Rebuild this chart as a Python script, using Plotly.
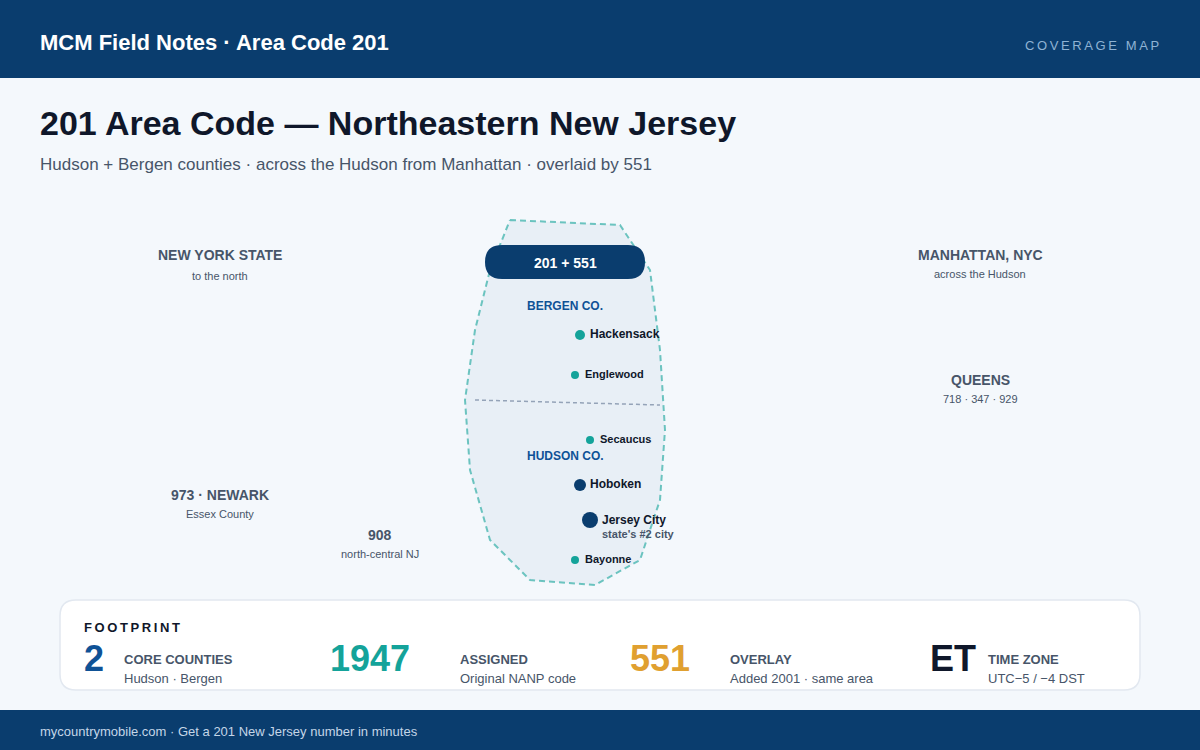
import plotly.graph_objects as go

# map outline and county divider
outline_x = [510, 620, 650, 660, 665, 660, 640, 595, 530, 490, 470, 465, 475, 490, 510]
outline_y = [220, 225, 270, 350, 430, 500, 560, 585, 580, 540, 470, 400, 330, 270, 220]
divider_x = [475, 660]
divider_y = [400, 405]

# cities
teal_names = ['Hackensack', 'Englewood', 'Secaucus', 'Bayonne']
teal_x = [580, 575, 590, 575]
teal_y = [335, 375, 440, 560]
teal_sizes = [10, 8, 8, 8]
navy_names = ['Hoboken', 'Jersey City']
navy_x = [580, 590]
navy_y = [485, 520]
navy_sizes = [12, 16]

NAVY = '#0a3d6e'
BLUE = '#0f5296'
TEAL = '#14a39a'
GOLD = '#e0a030'
INK = '#0f172a'
SLATE = '#475569'
SANS = 'Liberation Sans, Arial, sans-serif'

fig = go.Figure()

def addtext(x, y, text, size, color, anchor='left', bold=False):
    if bold:
        text = '<b>' + text + '</b>'
    fig.add_annotation(x=x, y=y, text=text, showarrow=False, xanchor=anchor, yanchor='middle',
                       borderpad=0, borderwidth=0,
                       font=dict(family=SANS, size=size, color=color))

def spaced(s):
    return '\u2009'.join(s)

# bands and cards
fig.add_shape(type='rect', x0=0, x1=1200, y0=0, y1=78, fillcolor=NAVY, line_width=0, layer='below')
fig.add_shape(type='rect', x0=0, x1=1200, y0=710, y1=750, fillcolor=NAVY, line_width=0, layer='below')
fig.add_shape(type='path', layer='below', fillcolor='#ffffff', line=dict(color='#e2e8f0', width=1.5),
              path='M 76 600 L 1124 600 Q 1140 600 1140 616 L 1140 674 Q 1140 690 1124 690 '
                   'L 76 690 Q 60 690 60 674 L 60 616 Q 60 600 76 600 Z')

fig.add_trace(go.Scatter(x=outline_x, y=outline_y, mode='lines', fill='toself', fillcolor='rgba(15,76,138,0.05)',
                         line=dict(color='rgba(20,163,154,0.6)', width=2, dash='6px,4px'), hoverinfo='skip'))
fig.add_trace(go.Scatter(x=divider_x, y=divider_y, mode='lines',
                         line=dict(color='#94a3b8', width=1.5, dash='4px,3px'), hoverinfo='skip'))
fig.add_trace(go.Scatter(x=teal_x, y=teal_y, mode='markers', text=teal_names,
                         marker=dict(color=TEAL, size=teal_sizes, line_width=0, opacity=1)))
fig.add_trace(go.Scatter(x=navy_x, y=navy_y, mode='markers', text=navy_names,
                         marker=dict(color=NAVY, size=navy_sizes, line_width=0, opacity=1)))

# badge sits over the outline
fig.add_shape(type='path', layer='above', fillcolor=NAVY, line_width=0,
              path='M 502 245 L 628 245 Q 645 245 645 262 Q 645 279 628 279 L 502 279 '
                   'Q 485 279 485 262 Q 485 245 502 245 Z')
addtext(565, 263, '201 + 551', 14, '#ffffff', 'center', True)

# header
addtext(40, 42, 'MCM Field Notes · Area Code 201', 22, '#ffffff', bold=True)
addtext(1159, 45, spaced('COVERAGE MAP'), 13, '#8fb3d4', 'right')
addtext(40, 123, '201 Area Code — Northeastern New Jersey', 34, INK, bold=True)
addtext(40, 164, 'Hudson + Bergen counties · across the Hudson from Manhattan · overlaid by 551', 17, SLATE)

# neighbours
addtext(220, 255, 'NEW YORK STATE', 14, SLATE, 'center', True)
addtext(220, 276, 'to the north', 11, SLATE, 'center')
addtext(980, 255, 'MANHATTAN, NYC', 14, SLATE, 'center', True)
addtext(980, 274, 'across the Hudson', 11, SLATE, 'center')
addtext(980, 380, 'QUEENS', 14, SLATE, 'center', True)
addtext(980, 399, '718 · 347 · 929', 11, SLATE, 'center')
addtext(220, 495, '973 · NEWARK', 14, SLATE, 'center', True)
addtext(220, 514, 'Essex County', 11, SLATE, 'center')
addtext(380, 535, '908', 14, SLATE, 'center', True)
addtext(380, 554, 'north-central NJ', 11, SLATE, 'center')

# map labels
addtext(565, 306, 'BERGEN CO.', 12, BLUE, 'center', True)
addtext(565, 456, 'HUDSON CO.', 12, BLUE, 'center', True)
addtext(590, 334, 'Hackensack', 12, INK, bold=True)
addtext(585, 374, 'Englewood', 11, INK, bold=True)
addtext(600, 439, 'Secaucus', 11, INK, bold=True)
addtext(590, 484, 'Hoboken', 12, INK, bold=True)
addtext(602, 520, 'Jersey City', 12, INK, bold=True)
addtext(602, 534, "state's #2 city", 11, SLATE, bold=True)
addtext(585, 559, 'Bayonne', 11, INK, bold=True)

# footprint card
addtext(84, 627, spaced('FOOTPRINT'), 13, INK, bold=True)
addtext(84, 658, '2', 36, BLUE, bold=True)
addtext(124, 659, 'CORE COUNTIES', 13, SLATE, bold=True)
addtext(124, 678, 'Hudson · Bergen', 13, SLATE)
addtext(330, 658, '1947', 36, TEAL, bold=True)
addtext(460, 659, 'ASSIGNED', 13, SLATE, bold=True)
addtext(460, 678, 'Original NANP code', 13, SLATE)
addtext(630, 658, '551', 36, GOLD, bold=True)
addtext(730, 659, 'OVERLAY', 13, SLATE, bold=True)
addtext(730, 678, 'Added 2001 · same area', 13, SLATE)
addtext(930, 658, 'ET', 36, INK, bold=True)
addtext(988, 659, 'TIME ZONE', 13, SLATE, bold=True)
addtext(988, 678, 'UTC−5 / −4 DST', 13, SLATE)

# footer
addtext(40, 731, 'mycountrymobile.com · Get a 201 New Jersey number in minutes', 13, '#c4d6e8')

fig.update_layout(
    width=1200, height=750, margin=dict(l=0, r=0, t=0, b=0), showlegend=False,
    paper_bgcolor='#f4f8fc', plot_bgcolor='#f4f8fc',
    xaxis=dict(range=[0, 1200], visible=False, fixedrange=True),
    yaxis=dict(range=[750, 0], visible=False, fixedrange=True),
)
fig.write_html("out.html", config=dict(displayModeBar=False),
               post_script="document.body.style.margin='0';")
